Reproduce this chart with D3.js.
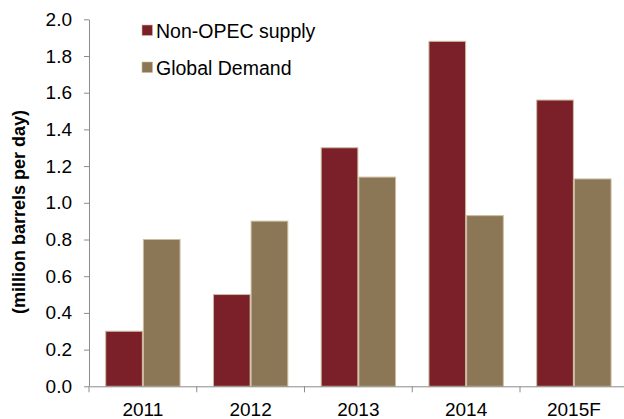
<!DOCTYPE html>
<html>
<head>
<meta charset="utf-8">
<script src="https://cdn.jsdelivr.net/npm/d3@7"></script>
<style>
  html, body { margin: 0; padding: 0; background: #fff; }
  svg { display: block; font-family: "Liberation Sans", Arial, sans-serif; }
</style>
</head>
<body>
<svg id="chart" width="624" height="419"></svg>
<script>
// Annual change, million barrels per day
const years = ["2011", "2012", "2013", "2014", "2015F"];
const nonOpecSupply = [0.30, 0.50, 1.30, 1.88, 1.56];
const globalDemand = [0.80, 0.90, 1.14, 0.93, 1.13];
const seriesNames = ["Non-OPEC supply", "Global Demand"];
const yTicks = [0, 0.2, 0.4, 0.6, 0.8, 1.0, 1.2, 1.4, 1.6, 1.8, 2.0];

const colors = ["#7b2029", "#8b7656"];
const edge = "#cbbd9f";
const axisColor = "#8c8c8c";
const font = "'Liberation Sans', Arial, sans-serif";

const svg = d3.select("#chart");
const margin = { left: 89, top: 19.3, bottom: 32.7 };
const plotW = 538.75;
const H = 419;

const x = d3.scaleBand().domain(years).range([margin.left, margin.left + plotW])
  .paddingInner(0).paddingOuter(0);
const inner = d3.scaleBand().domain(seriesNames).range([0, x.bandwidth()])
  .paddingInner(0).paddingOuter(0.43);
const y = d3.scaleLinear().domain([0, 2.0]).range([H - margin.bottom, margin.top]);

const rows = years.map((yr, i) => ({ year: yr, values: [nonOpecSupply[i], globalDemand[i]] }));

// bars
const groups = svg.append("g").selectAll("g").data(rows).join("g")
  .attr("transform", d => `translate(${x(d.year)},0)`);
groups.selectAll("rect")
  .data(d => d.values.map((v, k) => ({ key: seriesNames[k], v, k })))
  .join("rect")
  .attr("x", d => inner(d.key) + 0.5)
  .attr("width", inner.bandwidth() - 1)
  .attr("y", d => y(d.v))
  .attr("height", d => y(0) - y(d.v))
  .attr("fill", d => colors[d.k])
  .attr("stroke", edge)
  .attr("stroke-width", 1);

// y axis
const yAxis = svg.append("g").attr("transform", `translate(${margin.left},0)`)
  .call(d3.axisLeft(y).tickValues(yTicks).tickFormat(d3.format(".1f")).tickSize(5).tickSizeOuter(0).tickPadding(12));
yAxis.select(".domain").attr("stroke", axisColor);
yAxis.selectAll(".tick line").attr("stroke", axisColor);
yAxis.selectAll(".tick text").attr("font-size", 19).attr("fill", "#000")
  .attr("font-family", font);

// x axis
const xAxis = svg.append("g").attr("transform", `translate(0,${y(0)})`)
  .call(d3.axisBottom(x).tickSize(0).tickPadding(16));
xAxis.select(".domain").attr("stroke", axisColor);
xAxis.selectAll(".tick text").attr("font-size", 19).attr("fill", "#000")
  .attr("font-family", font);
// category boundary ticks
svg.append("g").selectAll("line")
  .data(years.concat(["end"]))
  .join("line")
  .attr("x1", (d, i) => margin.left + i * x.step())
  .attr("x2", (d, i) => margin.left + i * x.step())
  .attr("y1", y(0)).attr("y2", y(0) + 6)
  .attr("stroke", axisColor);

// y axis title
svg.append("text")
  .attr("transform", `translate(25,212) rotate(-90)`)
  .attr("text-anchor", "middle")
  .attr("font-size", 18).attr("font-weight", "bold")
  .text("(million barrels per day)");

// legend
const legend = svg.append("g").attr("transform", "translate(141.5,0)");
seriesNames.forEach((name, k) => {
  const cy = 30.5 + k * 37;
  legend.append("rect").attr("x", 0.5).attr("y", cy - 5.5).attr("width", 10.5).attr("height", 10.5)
    .attr("fill", colors[k]).attr("stroke", edge).attr("stroke-width", 0.6);
  legend.append("text").attr("x", 14.5).attr("y", cy + 7)
    .attr("font-size", 19.5).text(name);
});
</script>
</body>
</html>
